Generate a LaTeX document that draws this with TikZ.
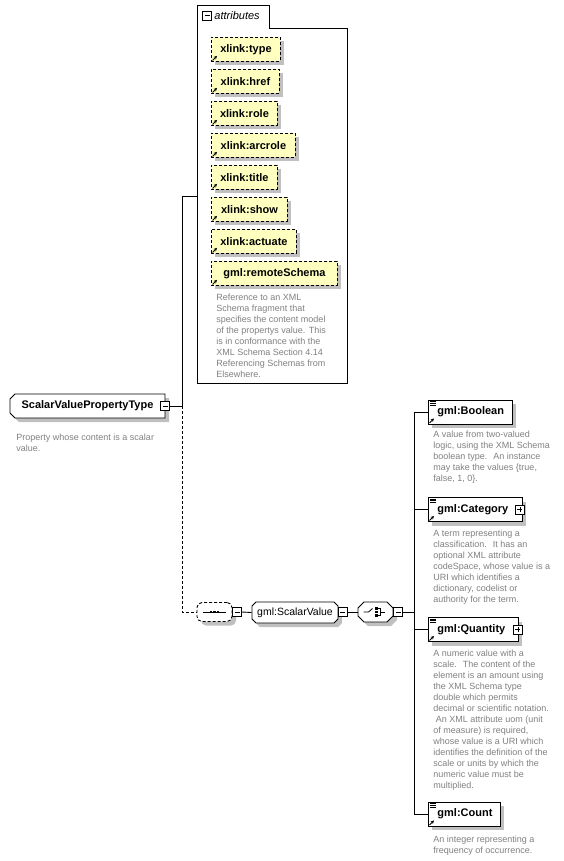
\documentclass[tikz,border=0pt]{standalone}
\usepackage{fontspec}
\setmainfont{Liberation Sans}
\usepackage{tikz}
\usetikzlibrary{arrows.meta,shadows}

\definecolor{attrfill}{RGB}{255,255,192}
\definecolor{shadowgray}{RGB}{192,192,192}
\definecolor{notegray}{RGB}{128,128,128}

\tikzset{
  boxshadow/.style={general shadow={fill=shadowgray,shadow xshift=4pt,shadow yshift=-4pt}},
  labelfont/.style={font=\fontsize{11}{13}\selectfont\bfseries},
  attrbox/.style={draw,dash pattern=on 3pt off 2pt,fill=attrfill,boxshadow,labelfont,
    inner sep=0pt,minimum height=24pt,anchor=north west},
  elembox/.style={draw,fill=white,boxshadow,labelfont,inner ysep=0pt,inner xsep=9pt,
    minimum height=24pt,anchor=west,align=left},
  holder/.style={inner sep=0pt,minimum width=#1},
  seqbox/.style={draw,dash pattern=on 3pt off 2pt,rounded corners=5pt,fill=white,boxshadow,
    inner sep=0pt,minimum width=35pt,minimum height=19pt},
  note/.style={anchor=north west,inner sep=0pt,align=left,text=notegray,font=\fontsize{9}{11}\selectfont},
  collapsebox/.style={draw,fill=white,inner sep=0pt,minimum size=9pt,line width=0.7pt,
    path picture={\draw ([xshift=2pt]path picture bounding box.west) -- ([xshift=-2pt]path picture bounding box.east);}},
  expandbox/.style={draw,fill=white,inner sep=0pt,minimum size=9pt,line width=0.7pt,
    path picture={\draw ([xshift=2pt]path picture bounding box.west) -- ([xshift=-2pt]path picture bounding box.east);
      \draw ([yshift=2pt]path picture bounding box.south) -- ([yshift=-2pt]path picture bounding box.north);}},
}

% outline with cut corners: left, top, right, bottom, left cut, right cut
\def\cutpath#1#2#3#4#5#6{(#1+#5,#2) -- (#3-#6,#2) -- (#3,#2+#6) -- (#3,#4-#6) -- (#3-#6,#4)
  -- (#1+#5,#4) -- (#1,#4-#5) -- (#1,#2+#5) -- cycle}
\newcommand{\cutbox}[6]{%
  \fill[shadowgray,xshift=4pt,yshift=-4pt] \cutpath{#1}{#2}{#3}{#4}{#5}{#6};
  \filldraw[fill=white] \cutpath{#1}{#2}{#3}{#4}{#5}{#6};}
% small reference arrow in the lower left corner
\newcommand{\refarrow}[1]{\draw[-{Stealth[length=3.4pt,width=3.4pt]},line width=0.9pt,solid]
  ([shift={(1.5pt,1.5pt)}]#1.south west) -- ++(4.5pt,4.5pt);}
% element icon in the upper left corner
\newcommand{\elemicon}[1]{\foreach \k in {0,1,2}{
  \draw[line width=0.6pt] ([xshift=2pt,yshift={-2pt-1.7pt*\k}]#1.north west) -- ++(5.5pt,0);}}

\begin{document}
\begin{tikzpicture}[x=1pt,y=-1pt,line width=0.9pt]
\useasboundingbox (0,0) rectangle (563,861);

%%%%% attribute group %%%%%
\draw (197,383) -- (197,5) -- (269,5) -- (269,28) -- (347,28) -- (347,383) -- cycle;
\node[collapsebox] (attrc) at (207,15.5) {};
\node[anchor=west,inner sep=0pt,font=\fontsize{11}{13}\selectfont\itshape] (attrlbl) at (214,16) {attributes};
\foreach \name/\txt/\w [count=\i from 0] in {atype/xlink:type/69, ahref/xlink:href/68,
  arole/xlink:role/66, aarcrole/xlink:arcrole/84, atitle/xlink:title/66, ashow/xlink:show/76,
  aactuate/xlink:actuate/85, aschema/gml:remoteSchema/126}{
  \node[attrbox,minimum width=\w pt] (\name) at (211,{37+32*\i}) {\txt};
  \refarrow{\name}
}
\node[note] (attrnote) at (216,293.5) {Reference to an XML\\Schema fragment that\\specifies the content model\\of the propertys value. This\\is in conformance with the\\XML Schema Section 4.14\\Referencing Schemas from\\Elsewhere.};

%%%%% complex type %%%%%
\cutbox{10}{394}{165}{418}{5}{0}
\node[holder=155pt,labelfont,minimum height=24pt] (svpt) at (87.5,406) {ScalarValuePropertyType};
\node[collapsebox] (svptc) at (165,406) {};
\node[note] (svptnote) at (16,433.5) {Property whose content is a scalar\\value.};
\coordinate (jA) at (182,406);
\coordinate (attrin) at (197,196);
\draw (svptc.east) -- (jA) |- (attrin);

%%%%% sequence, element, choice %%%%%
\node[seqbox] (seq) at (214.5,612) {};
\draw[line width=0.8pt] ([xshift=6pt]seq.west) -- ([xshift=-6pt]seq.east);
\foreach \dx in {-3.5,0,3.5}{
  \fill ([xshift=\dx pt]seq.center) +(-1.3pt,-1.3pt) rectangle +(1.3pt,1.3pt);
}
\node[collapsebox] (seqc) at (237,612) {};
\draw[dash pattern=on 3pt off 2pt] (jA) |- (seq.west);

\cutbox{252}{602}{338}{623}{4}{4}
\node[holder=86pt,minimum height=21pt,font=\fontsize{10.5}{12}\selectfont] (sv) at (295,612.5) {gml:ScalarValue};
\node[collapsebox] (svc) at (342.5,612) {};
\draw (seqc.east) -- (sv.west);

\cutbox{358}{602}{393}{622}{6}{6}
\node[holder=35pt,minimum height=20pt] (ch) at (375.5,612) {};
\draw[line width=0.8pt] ([xshift=-12pt]ch.center) -- ++(5pt,0) -- ++(4pt,3.5pt);
\foreach \dy in {-3.5,0,3.5}{
  \fill ([shift={(1pt,\dy pt)}]ch.center) +(-1.2pt,-1.2pt) rectangle +(1.2pt,1.2pt);
}
\draw[line width=0.7pt] ([shift={(2.5pt,3.5pt)}]ch.center) -- ++(2.5pt,0) -- ++(0,-7pt) -- ++(-2.5pt,0);
\draw[line width=0.7pt] ([xshift=5pt]ch.center) -- ++(4pt,0);
\node[collapsebox] (chc) at (398,612) {};
\draw (svc.east) -- (ch.west);

%%%%% choice members %%%%%
\coordinate (trunk) at (414,612);
\node[elembox,text width=66pt] (bool) at (428,412) {gml:Boolean};
\node[elembox,text width=76pt] (cat) at (428,509.5) {gml:Category};
\node[elembox,text width=72pt] (qty) at (428,629.5) {gml:Quantity};
\node[elembox,text width=54pt] (cnt) at (428,814) {gml:Count};
\foreach \e in {bool,cat,qty,cnt}{
  \draw (chc.east) -- (trunk) |- (\e.west);
  \elemicon{\e}
  \refarrow{\e}
}
\node[expandbox] (catx) at ([xshift=-3pt]cat.east) {};
\node[expandbox] (qtyx) at ([xshift=-1pt]qty.east) {};

\node[note] (boolnote) at (433,430.5) {A value from two-valued\\logic, using the XML Schema\\boolean type.~ An instance\\may take the values \{true,\\false, 1, 0\}.};
\node[note] (catnote) at (433,529.5) {A term representing a\\classification.~ It has an\\optional XML attribute\\codeSpace, whose value is a\\URI which identifies a\\dictionary, codelist or\\authority for the term.};
\node[note] (qtynote) at (433,649.5) {A numeric value with a\\scale.~ The content of the\\element is an amount using\\the XML Schema type\\double which permits\\decimal or scientific notation.\\~An XML attribute uom (unit\\of measure) is required,\\whose value is a URI which\\identifies the definition of the\\scale or units by which the\\numeric value must be\\multiplied.};
\node[note] (cntnote) at (433,835.5) {An integer representing a\\frequency of occurrence.};
\end{tikzpicture}
\end{document}
